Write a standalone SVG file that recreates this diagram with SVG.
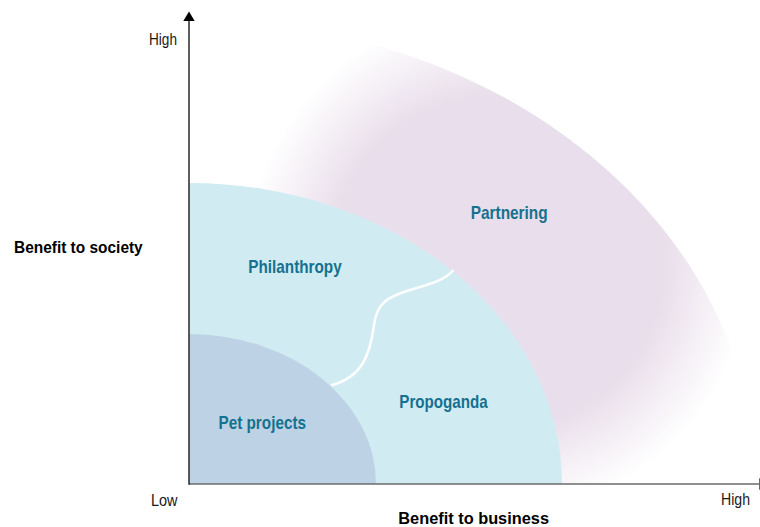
<svg xmlns="http://www.w3.org/2000/svg" width="760" height="527" viewBox="0 0 760 527">
<defs>
<radialGradient id="pinkFade" gradientUnits="userSpaceOnUse" cx="498" cy="262" r="252">
<stop offset="0" stop-color="#e9deeb" stop-opacity="1"/>
<stop offset="0.66" stop-color="#e9deeb" stop-opacity="1"/>
<stop offset="1" stop-color="#e9deeb" stop-opacity="0"/>
</radialGradient>
</defs>
<style>
.lbl{font-family:"Liberation Sans",Arial,sans-serif;font-size:17px;fill:#1a1a1a}
.axt{font-family:"Liberation Sans",Arial,sans-serif;font-size:17px;font-weight:bold;fill:#000}
.reg{font-family:"Liberation Sans",Arial,sans-serif;font-size:18.5px;font-weight:bold;fill:#15718f}
.div{fill:none;stroke:#ffffff;stroke-width:2.5;stroke-linecap:round}
</style>
<rect width="760" height="527" fill="#ffffff"/>
<g id="partnering">
<path d="M189,484 L189,19 A567,465 0 0 1 756,484 Z" fill="url(#pinkFade)"/>
<text class="reg" x="470.7" y="219.3" textLength="77" lengthAdjust="spacingAndGlyphs">Partnering</text>
</g>
<g id="philanthropy-propoganda">
<path d="M189,484 L189,183 A373,301 0 0 1 562,484 Z" fill="#d0ecf2"/>
</g>
<g id="pet-projects">
<path d="M189,484 L189,334 A187,150 0 0 1 376,484 Z" fill="#bdd3e5"/>
<text class="reg" x="218.5" y="429" textLength="87.5" lengthAdjust="spacingAndGlyphs">Pet projects</text>
</g>
<g id="connectors">
<path class="div" d="M332,385 C362,377 370,355 374,325 C377,302 388,297 410,290 C430,284 445,280 452.7,270.7"/>
</g>
<g id="philanthropy">
<text class="reg" x="248.3" y="273.3" textLength="93.4" lengthAdjust="spacingAndGlyphs">Philanthropy</text>
</g>
<g id="propoganda">
<text class="reg" x="399.3" y="408" textLength="88.4" lengthAdjust="spacingAndGlyphs">Propoganda</text>
</g>
<g id="axes">
<line x1="189" y1="484" x2="760" y2="484" stroke="#6b6b6b" stroke-width="1.6"/>
<polygon points="759,478 770,484 759,490" fill="#6b6b6b"/>
<line x1="189" y1="20" x2="189" y2="484.8" stroke="#1a1a1a" stroke-width="1.4"/>
<polygon points="189,11.5 194.7,21 183.3,21" fill="#000"/>
<text class="lbl" x="149" y="45" textLength="28" lengthAdjust="spacingAndGlyphs">High</text>
<text class="lbl" x="151" y="506" textLength="26.5" lengthAdjust="spacingAndGlyphs">Low</text>
<text class="lbl" x="721" y="505" textLength="29" lengthAdjust="spacingAndGlyphs">High</text>
<text class="axt" x="14" y="253.3" textLength="128.7" lengthAdjust="spacingAndGlyphs">Benefit to society</text>
<text class="axt" x="398.3" y="524" textLength="150.7" lengthAdjust="spacingAndGlyphs">Benefit to business</text>
</g>
</svg>
